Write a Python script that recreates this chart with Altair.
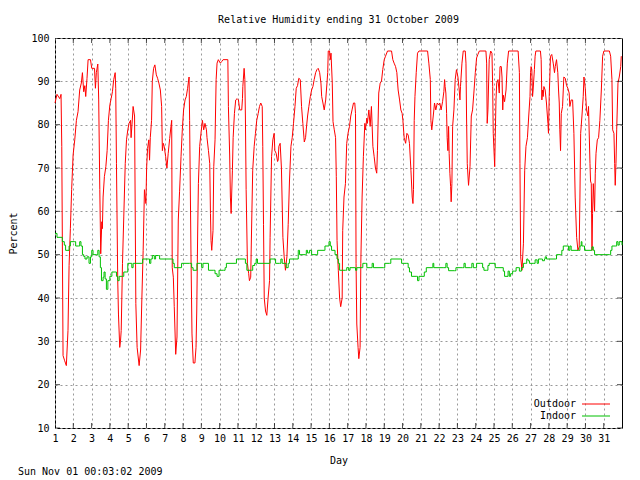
import altair as alt
import pandas as pd

FONT = "DejaVu Sans Mono"

title_text = "Relative Humidity ending 31 October 2009"
stamp_text = "Sun Nov 01 00:03:02 2009"
x_title = "Day"
y_title = "Percent"
series = ["Outdoor", "Indoor"]
colors = ["#ff0000", "#00c000"]
day_ticks = list(range(1, 32))
pct_ticks = list(range(10, 101, 10))

out_day = [1.00, 1.11, 1.26, 1.33, 1.37, 1.44, 1.53, 1.62, 1.71, 1.77, 1.84, 1.91, 1.99, 2.08, 2.17, 2.26, 2.35, 2.44, 2.50, 2.57,
           2.63, 2.68, 2.75, 2.81, 2.94, 3.01, 3.16, 3.21, 3.26, 3.34, 3.39, 3.45, 3.50, 3.56, 3.59, 3.63, 3.70, 3.78, 3.85, 3.92,
           4.00, 4.07, 4.14, 4.21, 4.29, 4.32, 4.36, 4.43, 4.47, 4.54, 4.58, 4.62, 4.69, 4.76, 4.84, 4.91, 4.98, 5.05, 5.13, 5.16,
           5.24, 5.27, 5.35, 5.42, 5.49, 5.60, 5.68, 5.75, 5.82, 5.89,
           5.97, 6.01, 6.06, 6.13, 6.17, 6.21, 6.28, 6.32, 6.39, 6.46, 6.54, 6.61, 6.68, 6.76, 6.83, 6.87, 6.92, 6.97, 7.05, 7.12,
           7.19, 7.27, 7.34, 7.38, 7.41, 7.47, 7.52, 7.60, 7.67, 7.74, 7.81, 7.89, 7.96, 8.03, 8.11, 8.18, 8.25, 8.33, 8.36, 8.44,
           8.49, 8.56, 8.65, 8.71, 8.75, 8.80, 8.84, 8.91, 8.98, 9.06, 9.13, 9.20, 9.28, 9.31, 9.39, 9.46, 9.50, 9.53, 9.57, 9.64,
           9.68, 9.75, 9.81, 9.86, 9.93, 10.04, 10.12, 10.19, 10.45, 10.48, 10.55, 10.59, 10.63, 10.66, 10.70, 10.74, 10.81, 10.88,
           10.96, 11.03, 11.10, 11.21, 11.25,
           11.27, 11.34, 11.38, 11.41, 11.45, 11.52, 11.59, 11.63, 11.70, 11.76, 11.81, 11.89, 11.96, 12.03, 12.11, 12.18, 12.25,
           12.33, 12.36, 12.40, 12.44, 12.51, 12.58, 12.65, 12.73, 12.76, 12.84, 12.91, 12.98, 13.02, 13.09, 13.17, 13.20, 13.24,
           13.31, 13.38, 13.46, 13.53, 13.60, 13.68, 13.75, 13.82, 13.90, 13.97, 14.04, 14.12, 14.19, 14.26, 14.33, 14.41, 14.48,
           14.55, 14.63, 14.70, 14.74, 14.81, 14.88, 14.96, 15.03, 15.10, 15.17, 15.25, 15.32, 15.39, 15.47, 15.54, 15.58, 15.65,
           15.72, 15.80, 15.87, 15.91, 15.94, 16.01, 16.05, 16.09, 16.16, 16.20, 16.27, 16.34, 16.38, 16.42, 16.49, 16.56,
           16.62, 16.70, 16.73, 16.80, 16.88, 16.95, 17.02, 17.10, 17.17, 17.24, 17.32, 17.39, 17.43, 17.46, 17.50, 17.57, 17.61,
           17.68, 17.72, 17.79, 17.86, 17.94, 17.97, 18.05, 18.08, 18.16, 18.23, 18.30, 18.38, 18.45, 18.52, 18.59, 18.63, 18.70,
           18.78, 18.85, 18.92, 19.00, 19.07, 19.18, 19.40, 19.47, 19.54, 19.62, 19.69, 19.76, 19.84, 19.91, 19.98, 20.02, 20.09,
           20.17, 20.24, 20.31, 20.38, 20.46, 20.53, 20.57, 20.60, 20.64, 20.68, 20.75, 20.82, 20.90, 21.37, 21.44, 21.52, 21.55,
           21.60, 21.68, 21.75, 21.82, 21.90, 21.97, 22.04, 22.11, 22.19, 22.26, 22.30, 22.33, 22.37, 22.41, 22.44, 22.48, 22.52,
           22.55, 22.59, 22.63, 22.66, 22.70, 22.74, 22.81, 22.88, 22.95, 23.03, 23.10, 23.14, 23.17, 23.25, 23.32, 23.43, 23.47,
           23.50, 23.54, 23.61, 23.69, 23.76, 23.83, 23.90, 23.98, 24.05, 24.12, 24.20, 24.56, 24.60, 24.63, 24.67, 24.74, 24.82,
           24.89, 24.93, 24.96, 25.04, 25.07, 25.11, 25.15, 25.22, 25.29, 25.33, 25.40, 25.44, 25.48, 25.51, 25.58, 25.66, 25.73,
           25.80, 26.32, 26.39, 26.42, 26.46, 26.53, 26.61, 26.68, 26.75, 26.83, 26.90, 26.97,
           27.00, 27.03, 27.07, 27.11, 27.14, 27.21, 27.25, 27.29, 27.54, 27.58, 27.62, 27.65, 27.69, 27.73, 27.80, 27.87, 27.95,
           27.98, 28.02, 28.09, 28.16, 28.24, 28.31, 28.35, 28.42, 28.49, 28.53, 28.57, 28.60, 28.64, 28.68, 28.75, 28.82, 28.90,
           28.97, 29.04, 29.11, 29.15, 29.22, 29.30, 29.37, 29.44, 29.52, 29.59, 29.66, 29.70, 29.74, 29.81, 29.88, 29.92, 29.99,
           30.06, 30.14, 30.17, 30.25, 30.28, 30.32, 30.36, 30.39, 30.43, 30.50, 30.54, 30.58, 30.65, 30.72, 30.79, 30.87, 30.94,
           31.01, 31.31, 31.38, 31.45, 31.49, 31.56, 31.60, 31.63, 31.67, 31.71, 31.78, 31.85, 31.93, 31.96]

out_rh = [85, 87, 86, 87, 75, 26.7, 25.5, 24.4, 32.5, 47.5, 56, 65, 73, 76.5, 81, 83, 88, 89.6, 92, 87.6,
          89, 86.5, 90.7, 95, 95, 93, 93, 88.4, 92, 94, 85.7, 65, 50.2, 57.6, 56, 63.3, 68, 70.3, 74, 81,
          84.6, 86, 87.6, 90.4, 92, 88.4, 71, 44, 36.3, 28.6, 30, 32.5, 48, 58.7, 71, 76.5, 78.8, 80.3, 81, 77,
          82, 84.2, 82, 38.7, 28.6, 24.4, 28, 40, 51, 65,
          61.8, 70, 74.5, 76.5, 71.8, 77, 81, 90, 93, 93.8, 91.5, 90.7, 89.6, 88, 84.2, 74, 75.7, 75, 72.6, 70,
          73.4, 76.8, 79.6, 81, 47, 44.8, 38, 27, 31, 58, 64.5, 72.6, 78.8, 83.4, 85.7, 86.5, 88.4, 91, 81, 48,
          31.7, 25, 25, 28.6, 37, 55, 66.4, 75, 78, 81, 78.8, 80.3, 78.8, 77, 74, 71, 59.5, 53.3, 51, 55.6,
          70.3, 76.5, 90.4, 94.2, 95, 94.2, 94.6, 95, 95, 84.2, 73, 63.3, 59.5, 64, 69.5, 77, 82.6, 85.7,
          86, 85.7, 83.4, 83.4, 86,
          88.8, 93, 90.4, 82, 65, 48, 45.6, 44, 44.8, 58.7, 69.5, 75, 78, 81, 82.6, 84.2, 85,
          84.2, 75, 57, 40, 37, 36, 40, 44, 54, 72.6, 76.5, 78, 74, 73.4, 71.5, 71.8, 75,
          75.7, 70, 54, 49.5, 46.4, 49.5, 57, 67, 75, 77, 80.3, 84.2, 88.4, 89, 90.7, 90.4, 84.2,
          80.3, 76, 77, 79, 82, 84.2, 86.5, 88, 88.8, 90.4, 92, 92.7, 93, 92, 89.6, 86.5, 85,
          83.4, 85.7, 89.6, 92, 97, 97, 95, 96.5, 89.6, 80.7, 78.8, 77, 68, 53.3, 46.4, 40,
          38, 40, 55.6, 63.3, 66.4, 75.7, 78, 79.6, 82, 83.4, 85, 85, 82.6, 48, 34, 28.6, 26,
          28.6, 48, 63.3, 72.6, 80.3, 78.8, 81.5, 80.3, 83.4, 79.6, 84.2, 75, 72.6, 70, 68.8, 74, 87.3,
          89.6, 90, 92.7, 95, 95.8, 97, 97, 95, 94.2, 93.4, 92, 88, 85.7, 83.4, 82.6, 81, 77,
          75.7, 78, 77.6, 75.7, 69.5, 63.3, 61.8, 65, 81, 86.5, 92, 96.5, 97, 97, 94.2, 90.4, 81,
          78.8, 82, 85, 83.4, 85, 84.6, 85, 83.4, 85.3, 87.6, 90.4, 88.8, 87.3, 82.6, 77, 74, 79.6,
          73.4, 68.8, 65.7, 62.2, 66.4, 79.6, 83.4, 90.4, 92.7, 91, 88, 85.7, 88.8, 94.2, 97, 97, 94.2,
          82, 71, 66, 70.3, 82, 83.4, 87.3, 92, 95.4, 96.2, 97, 97, 94.2, 80.3, 83.4, 95, 97,
          96.5, 88.8, 78, 70.3, 77, 85.7, 89.6, 90.4, 87.3, 93.4, 93.4, 91, 83.4, 86.8, 85.3, 88, 94.2,
          97, 97, 92, 71, 49.5, 46.4, 52.5, 69.5, 75, 77, 82, 86.5,
          92, 93.4, 92.7, 86.5, 88, 92.7, 95.8, 97, 97, 95, 85.7, 88, 86.5, 88.8, 88, 85, 80.3,
          78, 86.5, 95.8, 96.2, 94.2, 92, 93.4, 95, 92, 88, 85, 78.8, 74, 82.6, 84.2, 91, 90.7,
          89, 88.4, 87.3, 84.2, 85.7, 85.7, 78, 63.3, 54, 51, 51.8, 63.3, 78, 82, 86.5, 91, 88.4,
          83.4, 82, 84.2, 71, 67, 66.4, 51, 59.5, 66.4, 60, 68.8, 73.4, 76.5, 77, 81, 88, 95.8,
          97, 97, 95.8, 90.4, 78.8, 78, 71, 66, 71, 78.8, 89.6, 91, 93.4, 95.8]

in_day = [1.00, 1.11, 1.40, 1.51, 1.58, 1.71, 1.77, 1.84, 2.08, 2.13, 2.28, 2.35, 2.42, 2.50, 2.57, 2.64, 2.75, 2.86, 2.94, 3.01,
          3.08, 3.26, 3.34, 3.41, 3.48, 3.54, 3.63, 3.68, 3.74, 3.81, 3.89, 4.00, 4.11, 4.29, 4.36, 4.43, 4.51, 4.69, 4.76, 4.91,
          4.98, 5.16, 5.20, 5.27, 5.75, 5.79, 6.10, 6.17, 6.24, 6.32, 6.43, 6.50, 6.65, 6.72, 7.38, 7.45, 7.52, 7.89, 7.92, 8.36,
          8.47, 8.55, 8.73, 8.76, 8.95, 9.02, 9.09, 9.31, 9.39, 9.68, 9.75, 9.86, 9.97, 10.22, 10.30, 10.37, 10.85, 10.92, 11.34, 11.41,
          11.49, 11.74, 11.81, 11.92, 12.00, 12.07, 12.73, 12.76, 12.98, 13.06, 13.28, 13.35, 13.42, 13.57, 13.64, 13.75, 13.82, 14.23,
          14.30, 14.37, 14.70, 14.74, 14.81, 14.92, 15.03, 15.28, 15.36, 15.72, 15.76, 15.94, 15.98, 16.05, 16.12, 16.31, 16.42, 16.49,
          16.56, 16.88, 16.95, 17.06, 17.13, 17.35, 17.43, 17.50, 17.79, 17.83, 17.97, 18.05, 18.27, 18.34, 18.41, 18.96, 19.03, 19.29,
          19.36, 19.91, 19.95, 20.20, 20.31, 20.38, 20.49, 20.75, 20.82, 20.90, 21.12, 21.19, 21.30, 21.63, 21.66, 21.71, 22.26, 22.37,
          22.44, 22.52, 22.85, 22.92, 23.28, 23.36, 23.43, 23.72, 23.79, 23.87, 24.01, 24.05, 24.27, 24.38, 24.45, 24.60, 24.67, 24.74,
          25.00, 25.07, 25.44, 25.51, 25.58, 25.77, 25.84, 25.91, 26.02, 26.13, 26.21, 26.32, 26.39, 26.50, 26.61, 26.72, 26.79, 26.86,
          26.94, 27.18, 27.25, 27.36, 27.43, 27.58, 27.65, 27.76, 27.80, 27.87, 28.35, 28.42, 28.64, 28.71, 28.79, 29.00, 29.08, 29.15,
          29.22, 29.63, 29.70, 29.77, 29.81, 29.88, 29.95, 30.32, 30.36, 30.43, 30.50, 31.31, 31.38, 31.45, 31.63, 31.71, 31.78, 31.85,
          32.00]

in_rh = [54.9, 54, 53, 52.2, 51, 51, 52, 53, 53, 52, 52, 53, 52, 50, 49.6, 49, 49.5, 48, 49.5, 51,
         50, 50, 51, 49.5, 47, 44, 44.8, 46, 44.4, 42, 44, 45, 46, 46, 45, 44, 45, 45, 46, 46,
         48, 48, 47, 48, 48, 49, 49, 48, 49, 49.8, 49, 49.8, 49.8, 49, 49, 48, 47, 47, 48, 48,
         47, 46.4, 46.4, 48, 48, 47, 48, 48, 46.4, 46.4, 45.6, 45, 46.4, 46.4, 47, 48, 48, 49, 49, 48,
         46.4, 46.4, 47.5, 48, 49, 48, 48, 49, 49, 48, 48, 49, 48, 48, 47, 48, 49, 49,
         51, 50, 50, 51, 50.4, 51, 50, 50, 51, 51, 52, 52, 53, 52, 51, 50, 49, 48,
         46.4, 46.4, 47, 46.4, 47, 47, 46.4, 47, 47, 48, 48, 47, 47, 48, 47, 47, 48, 48,
         49, 49, 48, 48, 47, 46, 45, 45, 44, 45, 45, 46, 47, 47, 48, 47, 47, 48,
         47, 46.3, 46.3, 47, 47, 48, 47, 47, 48, 47, 47, 48, 48, 47, 46.4, 46.4, 47.5, 48,
         48, 47, 47, 46.2, 45, 46.2, 45, 45.6, 46.2, 46.2, 47, 47, 46.2, 47, 48, 48, 49, 48.6,
         48, 48, 48.8, 48, 49, 49, 48.6, 49, 49.5, 49, 49, 50, 50, 51, 52, 52, 51, 52,
         51, 51, 52, 53, 52, 52, 51, 51, 51.8, 51, 50, 50, 51, 52, 52, 53, 52.2, 53,
         52.2]

xs = alt.Scale(domain=[1, 32], nice=False, zero=False)
ys = alt.Scale(domain=[10, 100], nice=False, zero=False)

grid_style = dict(grid=True, gridDash=[2, 3], gridColor="#999999", gridWidth=1,
                  ticks=False, domain=False, labelFont=FONT, labelFontSize=10,
                  labelColor="black", titleFont=FONT, titleFontSize=10,
                  titleFontWeight="normal", titleColor="black", labelOverlap=False)

x_axis = alt.Axis(values=day_ticks, tickCount=len(day_ticks), title=x_title, labelAngle=0, format="d",
                  labelPadding=5, titlePadding=12, labelFlush=False, **grid_style)
y_axis = alt.Axis(values=pct_ticks, tickCount=len(pct_ticks), title=y_title, format="d",
                  labelPadding=6, titlePadding=12, **grid_style)

df_out = pd.DataFrame({"day": out_day, "rh": out_rh})
df_in = pd.DataFrame({"day": in_day, "rh": in_rh})

outdoor = alt.Chart(df_out).mark_line(color=colors[0], strokeWidth=1).encode(
    x=alt.X("day:Q", scale=xs, axis=x_axis),
    y=alt.Y("rh:Q", scale=ys, axis=y_axis),
)
indoor = alt.Chart(df_in).mark_line(color=colors[1], strokeWidth=1, interpolate="step-after").encode(
    x=alt.X("day:Q", scale=xs),
    y=alt.Y("rh:Q", scale=ys),
)

# inward ticks (gnuplot style, mirrored on all sides)
xt = pd.DataFrame({"day": day_ticks})
yt = pd.DataFrame({"pct": pct_ticks})
tick_b = alt.Chart(xt).mark_tick(color="black", size=10, thickness=1, orient="vertical", clip=True).encode(
    x=alt.X("day:Q", scale=xs), y=alt.datum(10, scale=ys))
tick_t = alt.Chart(xt).mark_tick(color="black", size=10, thickness=1, orient="vertical", clip=True).encode(
    x=alt.X("day:Q", scale=xs), y=alt.datum(100, scale=ys))
tick_l = alt.Chart(yt).mark_tick(color="black", size=10, thickness=1, orient="horizontal", clip=True).encode(
    y=alt.Y("pct:Q", scale=ys), x=alt.datum(1, scale=xs))
tick_r = alt.Chart(yt).mark_tick(color="black", size=10, thickness=1, orient="horizontal", clip=True).encode(
    y=alt.Y("pct:Q", scale=ys), x=alt.datum(32, scale=xs))

# legend (gnuplot style: label then line sample)
leg_layers = []
for i, (name, col) in enumerate(zip(series, colors)):
    ld = pd.DataFrame({"label": [name]})
    yy = 366 + 12 * i
    leg_layers.append(alt.Chart(ld).mark_text(align="right", baseline="middle", font=FONT, fontSize=10,
                                              color="black").encode(
        text="label:N", x=alt.value(521), y=alt.value(yy)))
    leg_layers.append(alt.Chart(ld).mark_rule(color=col, strokeWidth=1).encode(
        x=alt.value(527), x2=alt.value(555), y=alt.value(yy)))

stamp = alt.Chart(pd.DataFrame({"t": [stamp_text]})).mark_text(
    align="left", baseline="middle", font=FONT, fontSize=10, color="black").encode(
    text="t:N", x=alt.value(-37), y=alt.value(434))

chart = alt.layer(outdoor, indoor, tick_b, tick_t, tick_l, tick_r, *leg_layers, stamp).properties(
    width=567, height=390,
    title=alt.TitleParams(title_text, font=FONT, fontSize=10, fontWeight="normal", anchor="middle",
                          offset=8, color="black"),
    padding={"left": 47, "top": 30, "right": 10, "bottom": 52},
    autosize="none",
    background="white",
).configure_view(stroke="black", strokeWidth=1)

chart.save("out.html", embed_options={"renderer": "svg", "actions": False})
